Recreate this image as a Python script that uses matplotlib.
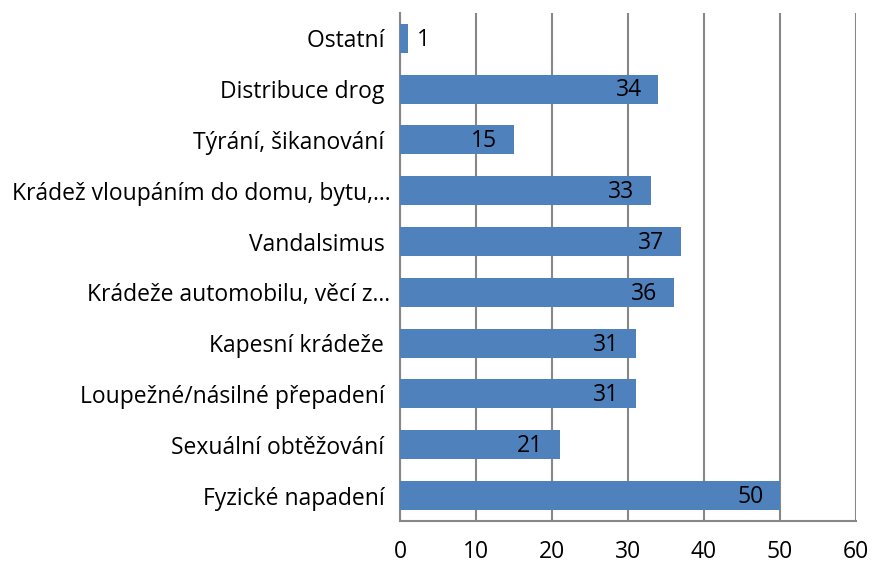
import numpy as np
import matplotlib
matplotlib.use("Agg")
import matplotlib.pyplot as plt

# categories listed bottom to top as drawn
categories = [
    "Fyzické napadení ",
    "Sexuální obtěžování ",
    "Loupežné/násilné přepadení ",
    "Kapesní krádeže ",
    "Krádeže automobilu, věcí z…",
    "Vandalsimus ",
    "Krádež vloupáním do domu, bytu,…",
    "Týrání, šikanování ",
    "Distribuce drog ",
    "Ostatní ",
]
values = [50, 21, 31, 31, 36, 37, 33, 15, 34, 1]
xticks = [0, 10, 20, 30, 40, 50, 60]

plt.rcParams['font.family'] = ['Open Sans', 'DejaVu Sans']
fs = 16.5

fig = plt.figure(figsize=(8.72, 5.64), dpi=100)
ax = fig.add_axes([0.4587, 0.0762, 0.523, 0.901])

y = np.arange(len(categories))
bars = ax.barh(y, values, height=0.57, color="#4F81BD", zorder=3)

for yi, v in zip(y, values):
    if v < 5:
        ax.annotate(str(v), (v, yi), xytext=(7, -1), textcoords="offset points",
                    ha="left", va="center", fontsize=fs, color="black", zorder=4)
    else:
        ax.annotate(str(v), (v, yi), xytext=(-12, -1), textcoords="offset points",
                    ha="right", va="center", fontsize=fs, color="black", zorder=4)

ax.set_xlim(0, 60)
ax.set_ylim(-0.5, len(categories) - 0.5)
ax.set_xticks(xticks)
ax.set_yticks(y)
ax.set_yticklabels(categories, fontsize=fs)
ax.tick_params(axis="x", labelsize=fs, length=0, pad=14)
ax.tick_params(axis="y", length=0, pad=7)

ax.grid(axis="x", color="#878787", linewidth=1.5, zorder=0)
for side in ["top", "right"]:
    ax.spines[side].set_visible(False)
for side in ["left", "bottom"]:
    ax.spines[side].set_color("#878787")
    ax.spines[side].set_linewidth(1.5)

fig.savefig("out.png", dpi=100)
